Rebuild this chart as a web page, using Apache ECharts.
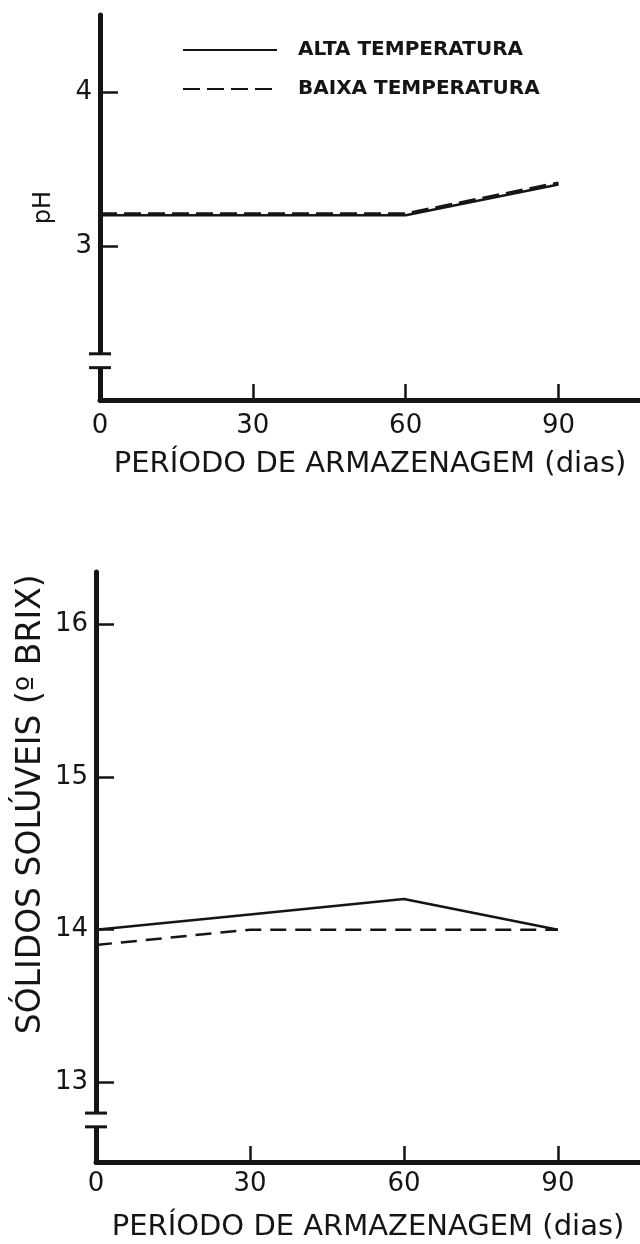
<!DOCTYPE html>
<html>
<head>
<meta charset="utf-8">
<script src="https://cdn.jsdelivr.net/npm/echarts@6/dist/echarts.min.js"></script>
<style>
  html, body { margin: 0; padding: 0; background: #fff; }
  #main { width: 640px; height: 1244px; }
</style>
</head>
<body>
<div id="main"></div>
<script>
// dados
const days = [0, 30, 60, 90];
const phAlta = [3.2, 3.2, 3.2, 3.4];
const phBaixa = [3.21, 3.21, 3.21, 3.41];
const brixAlta = [14.0, 14.1, 14.2, 14.0];
const brixBaixa = [13.9, 14.0, 14.0, 14.0];

const xLabels = [0, 30, 60, 90];
const xTicks = [30, 60, 90];
const phTicks = [3, 4];
const brixTicks = [13, 14, 15, 16];

const names = ['ALTA TEMPERATURA', 'BAIXA TEMPERATURA'];
const xTitle = 'PERÍODO DE ARMAZENAGEM (dias)';
const brixTitle = 'SÓLIDOS SOLÚVEIS (º BRIX)';

const ink = '#151515';
const font = 'DejaVu Sans';

function pairs(xs, ys) {
  return xs.map((x, i) => [x, ys[i]]);
}

function xAxisFor(gi, gap, labelMargin) {
  return {
    gridIndex: gi, type: 'value', min: 0, max: 106,
    axisLine: { lineStyle: { color: ink, width: 5 } },
    axisTick: { inside: true, length: 16, customValues: xTicks, lineStyle: { color: ink, width: 2.5 } },
    axisLabel: { customValues: xLabels, margin: labelMargin, color: ink, fontSize: 26, fontFamily: font },
    splitLine: { show: false },
    name: xTitle, nameLocation: 'middle', nameGap: gap,
    nameTextStyle: { color: ink, fontSize: 29, fontFamily: font }
  };
}

function yAxisFor(gi, min, max, ticks) {
  return {
    gridIndex: gi, type: 'value', min: min, max: max,
    axisLine: { lineStyle: { color: ink, width: 5 } },
    axisTick: { inside: true, length: 18, customValues: ticks, lineStyle: { color: ink, width: 2.5 } },
    axisLabel: { customValues: ticks, margin: 8, color: ink, fontSize: 26, fontFamily: font },
    splitLine: { show: false }
  };
}

var chart = echarts.init(document.getElementById('main'));

var option = {
  animation: false,
  backgroundColor: '#fff',
  grid: [
    { left: 100, right: 0, top: 15, height: 385 },
    { left: 96, right: 0, top: 572, height: 590 }
  ],
  legend: {
    orient: 'vertical', left: 182, top: 39, padding: 0,
    data: names,
    itemWidth: 94, itemHeight: 14, itemGap: 17,
    itemStyle: { opacity: 0 },
    textStyle: { color: ink, fontSize: 20, fontWeight: 'bold', fontFamily: font, lineHeight: 22, padding: [0, 0, 0, 16] }
  },
  xAxis: [xAxisFor(0, 50, 13), xAxisFor(1, 51, 9)],
  yAxis: [
    Object.assign(yAxisFor(0, 2.0, 4.5, phTicks), {
      name: 'pH', nameLocation: 'middle', nameGap: 44, nameRotate: 90,
      nameTextStyle: { color: ink, fontSize: 24, fontFamily: font }
    }),
    yAxisFor(1, 12.48, 16.34, brixTicks)
  ],
  series: [
    { name: names[0], type: 'line', xAxisIndex: 0, yAxisIndex: 0, data: pairs(days, phAlta),
      symbol: 'none', lineStyle: { color: ink, width: 2.5 }, itemStyle: { color: ink } },
    { name: names[1], type: 'line', xAxisIndex: 0, yAxisIndex: 0, data: pairs(days, phBaixa),
      symbol: 'none', lineStyle: { color: ink, width: 3, type: [17, 7] }, itemStyle: { color: ink } },
    { name: names[0], type: 'line', xAxisIndex: 1, yAxisIndex: 1, data: pairs(days, brixAlta),
      symbol: 'none', lineStyle: { color: ink, width: 2.5 }, itemStyle: { color: ink } },
    { name: names[1], type: 'line', xAxisIndex: 1, yAxisIndex: 1, data: pairs(days, brixBaixa),
      symbol: 'none', lineStyle: { color: ink, width: 2.5, type: [16, 9] }, itemStyle: { color: ink } }
  ]
};
chart.setOption(option);

// quebra do eixo y, posicionada pela escala do proprio eixo
function axisBreak(gi, lo, hi) {
  const a = chart.convertToPixel({ gridIndex: gi }, [0, lo]);
  const b = chart.convertToPixel({ gridIndex: gi }, [0, hi]);
  return [
    { type: 'rect', z: 100, shape: { x: a[0] - 6, y: b[1], width: 12, height: a[1] - b[1] }, style: { fill: '#fff' } },
    { type: 'line', z: 101, shape: { x1: a[0] - 11, y1: b[1], x2: a[0] + 11, y2: b[1] }, style: { stroke: ink, lineWidth: 3 } },
    { type: 'line', z: 101, shape: { x1: a[0] - 11, y1: a[1], x2: a[0] + 11, y2: a[1] }, style: { stroke: ink, lineWidth: 3 } }
  ];
}

const brixMid = chart.convertToPixel({ gridIndex: 1 }, [0, 14.82]);
chart.setOption({
  graphic: axisBreak(0, 2.21, 2.30).concat(axisBreak(1, 12.71, 12.80)).concat([
    { type: 'text', z: 100, x: 31, y: brixMid[1], rotation: Math.PI / 2,
      style: { text: brixTitle, fill: ink, fontSize: 33, fontFamily: font, align: 'center', verticalAlign: 'middle' } }
  ])
});
</script>
</body>
</html>
